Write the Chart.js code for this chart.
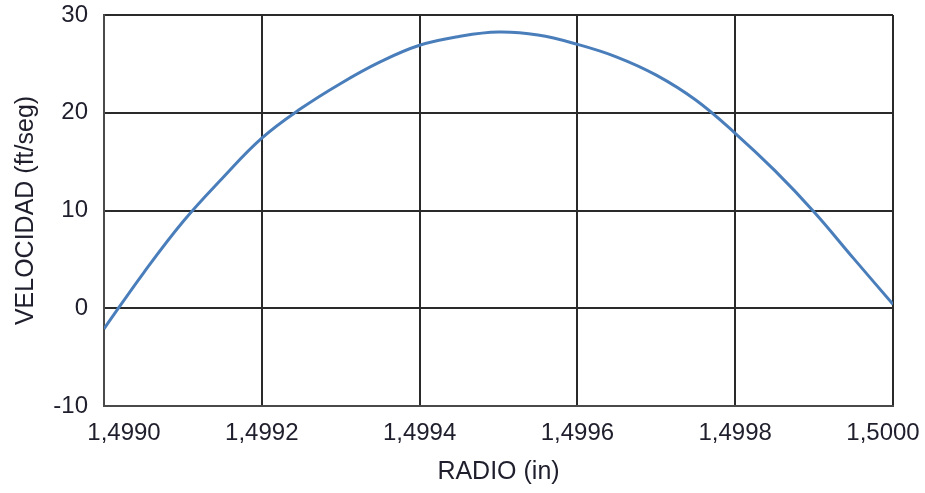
<!DOCTYPE html>
<html>
<head>
<meta charset="utf-8">
<script src="https://cdn.jsdelivr.net/npm/chart.js@4/dist/chart.umd.min.js"></script>
<style>
  html, body { margin: 0; padding: 0; background: #fff; }
  #wrap { width: 925px; height: 493px; }
</style>
</head>
<body>
<div id="wrap"><canvas id="velChart" width="925" height="493"></canvas></div>
<script>
// Radius samples (in) and measured velocity (ft/seg)
const radio = [
    1.49900, 1.49905, 1.49910, 1.49915, 1.49920, 1.49925, 1.49930,
    1.49935, 1.49940, 1.49945, 1.49950, 1.49955, 1.49960, 1.49965,
    1.49970, 1.49975, 1.49980, 1.49985, 1.49990, 1.49995, 1.50000
];
const velocidad = [
    -2.1, 3.6, 8.85, 13.3, 17.4, 20.45, 23.0,
    25.2, 26.9, 27.8, 28.25, 27.95, 27.0, 25.7,
    23.85, 21.3, 17.9, 14.1, 9.85, 5.1, 0.4
];

// Axis ticks
const xTicks = [1.4990, 1.4992, 1.4994, 1.4996, 1.4998, 1.5000];
const yTicks = [-10, 0, 10, 20, 30];

const textColor = '#1e1e2c';
const gridColor = '#2a2a2a';

const points = radio.map((r, i) => ({ x: r, y: velocidad[i] }));

// comma decimals; the two end labels are nudged inward so they stay on the canvas
function xLabel(v, i) {
    const s = v.toFixed(4).replace('.', ',');
    if (i === 0) return '      ' + s;
    if (i === xTicks.length - 1) return s + '   ';
    return s;
}

const config = {
    type: 'line',
    data: {
        datasets: [{
            label: 'Velocidad',
            data: points,
            borderColor: '#4a7ebb',
            borderWidth: 3,
            pointRadius: 0,
            fill: false,
            tension: 0.4
        }]
    },
    options: {
        responsive: false,
        animation: false,
        layout: {
            padding: { top: 15, right: 32, bottom: 0, left: 0 }
        },
        plugins: {
            legend: { display: false },
            tooltip: { enabled: false }
        },
        scales: {
            x: {
                type: 'linear',
                min: 1.4990,
                max: 1.5000,
                afterBuildTicks: (scale) => {
                    scale.ticks = xTicks.map(v => ({ value: v }));
                },
                afterFit: (scale) => {
                    scale.height = 87;
                    // let the outer labels hang past the plot edge
                    scale.paddingLeft = 0;
                    scale.paddingRight = 0;
                },
                grid: { color: gridColor, lineWidth: 2, drawTicks: false },
                border: { color: '#4a4a4a', width: 2 },
                ticks: {
                    padding: 13,
                    color: textColor,
                    font: { family: 'Liberation Sans, Arial, sans-serif', size: 24 },
                    maxRotation: 0,
                    autoSkip: false,
                    callback: (v, i) => xLabel(v, i)
                },
                title: {
                    display: true,
                    text: 'RADIO (in)',
                    color: textColor,
                    font: { family: 'Liberation Sans, Arial, sans-serif', size: 25 },
                    padding: { top: 0, bottom: 6 }
                }
            },
            y: {
                min: -10,
                max: 30,
                afterBuildTicks: (scale) => {
                    scale.ticks = yTicks.map(v => ({ value: v }));
                },
                afterFit: (scale) => {
                    scale.width = 104;
                    scale.paddingTop = 0;
                    scale.paddingBottom = 0;
                },
                grid: { color: gridColor, lineWidth: 2, drawTicks: false },
                border: { color: '#4a4a4a', width: 2 },
                ticks: {
                    padding: 16,
                    color: textColor,
                    font: { family: 'Liberation Sans, Arial, sans-serif', size: 24 }
                },
                title: {
                    display: true,
                    text: 'VELOCIDAD (ft/seg)',
                    color: textColor,
                    font: { family: 'Liberation Sans, Arial, sans-serif', size: 25 },
                    padding: { top: 11, bottom: 4 }
                }
            }
        }
    }
};

const ctx = document.getElementById('velChart').getContext('2d');
const velChart = new Chart(ctx, config);
</script>
</body>
</html>
